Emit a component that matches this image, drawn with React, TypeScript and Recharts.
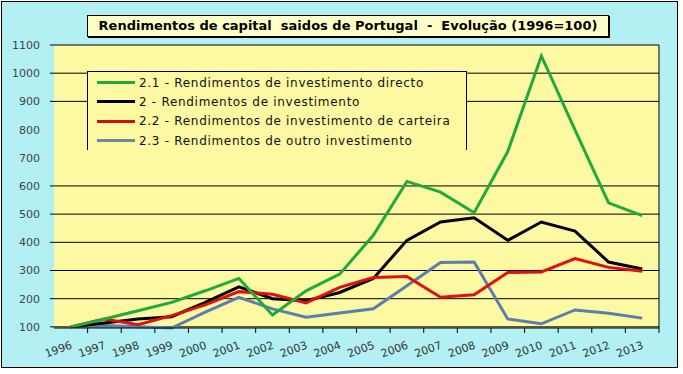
import { LineChart, Line, XAxis, YAxis, CartesianGrid } from 'recharts';

const years = ['1996', '1997', '1998', '1999', '2000', '2001', '2002', '2003', '2004', '2005', '2006', '2007', '2008', '2009', '2010', '2011', '2012', '2013'];
const directo = [100, 128, 157, 187, 228, 272, 142, 228, 287, 425, 616, 578, 505, 722, 1061, 799, 540, 495];
const investimento = [100, 114, 128, 136, 187, 242, 200, 193, 222, 272, 407, 472, 487, 407, 472, 440, 330, 305];
const carteira = [100, 128, 108, 140, 178, 225, 216, 185, 240, 275, 279, 205, 214, 293, 295, 342, 311, 297];
const outro = [100, 105, 100, 96, 152, 205, 164, 134, 149, 164, 246, 328, 330, 128, 111, 160, 148, 131];
const yTicks = [100, 200, 300, 400, 500, 600, 700, 800, 900, 1000, 1100];
const gridValues = [100, 200, 300, 400, 500, 600, 900, 1000, 1100];

const data = years.map((year, i) => ({
  year,
  directo: directo[i],
  investimento: investimento[i],
  carteira: carteira[i],
  outro: outro[i],
}));

// series pela ordem da legenda
const series = [
  { key: 'directo', name: '2.1 - Rendimentos de investimento directo', color: '#1faa3c', legendColor: '#1faa3c' },
  { key: 'investimento', name: '2 - Rendimentos de investimento', color: '#000', legendColor: '#000' },
  { key: 'carteira', name: '2.2 - Rendimentos de investimento de carteira', color: '#e01010', legendColor: '#d01010' },
  { key: 'outro', name: '2.3 - Rendimentos de outro investimento', color: '#5a7fae', legendColor: '#6a8aa0' },
];
// ordem de desenho (a verde fica por cima)
const drawOrder = ['outro', 'investimento', 'carteira', 'directo'];

const W = 683;
const H = 374;
const LEFT = 54;
const RIGHT = 24;
const PLOT_W = W - LEFT - RIGHT;
const HALF_BAND = PLOT_W / years.length / 2;
const FONT = '"DejaVu Sans", Verdana, sans-serif';

function YTick({ x, y, payload }: any) {
  const hasLine = gridValues.includes(payload.value);
  return (
    <g>
      {hasLine && <line x1={x + 10} x2={x + 14} y1={y} y2={y} stroke="#000" />}
      <text x={x} y={y + 4} textAnchor="end" fontSize={11} fontFamily={FONT} fill="#444">
        {payload.value}
      </text>
    </g>
  );
}

function XTick({ x, y, payload }: any) {
  return (
    <g>
      <line x1={x + HALF_BAND} x2={x + HALF_BAND} y1={y - 5} y2={y} stroke="#000" />
      <text
        x={x + 2}
        y={y + 15}
        textAnchor="end"
        fontSize={11}
        fontFamily={FONT}
        fill="#333"
        transform={`rotate(-20, ${x + 2}, ${y + 15})`}
      >
        {payload.value}
      </text>
    </g>
  );
}

export default function App() {
  return (
    <div style={{ position: 'absolute', left: 0, top: 0, width: W, height: H, background: '#fff' }}>
      <div
        style={{
          position: 'absolute',
          left: 1,
          top: 1,
          width: 677,
          height: 367,
          background: '#b3f0f3',
          border: '1px solid #000',
          boxSizing: 'border-box',
        }}
      />
      <div style={{ position: 'absolute', left: 0, top: 0 }}>
        <LineChart width={W} height={H} data={data} margin={{ top: 45, right: RIGHT - 1, bottom: 0, left: 0 }}>
          <CartesianGrid
            vertical={false}
            horizontalValues={gridValues}
            stroke="#000"
            strokeWidth={1}
            fill="#fdf8a2"
            fillOpacity={1}
          />
          <XAxis
            dataKey="year"
            height={46}
            tickSize={5}
            tickMargin={0}
            tickLine={false}
            axisLine={{ stroke: '#000' }}
            interval={0}
            padding={{ left: HALF_BAND, right: HALF_BAND }}
            tick={<XTick />}
          />
          <YAxis
            domain={[100, 1100]}
            ticks={yTicks}
            width={LEFT}
            tickSize={4}
            tickMargin={10}
            tickLine={false}
            axisLine={false}
            interval={0}
            tick={<YTick />}
          />
          <YAxis
            yAxisId="right"
            orientation="right"
            domain={[100, 1100]}
            width={1}
            tick={false}
            tickLine={false}
            axisLine={{ stroke: '#000' }}
          />
          {drawOrder.map((k) => {
            const s = series.find((d) => d.key === k)!;
            return (
              <Line
                key={k}
                dataKey={k}
                name={s.name}
                stroke={s.color}
                strokeWidth={3}
                dot={false}
                isAnimationActive={false}
              />
            );
          })}
        </LineChart>
      </div>
      <div
        style={{
          position: 'absolute',
          left: 87,
          top: 15,
          width: 522,
          height: 22,
          background: '#ffffc8',
          border: '1px solid #000',
          boxShadow: '1px 1px 0 #000',
          boxSizing: 'border-box',
          fontFamily: FONT,
          fontWeight: 'bold',
          fontSize: 13,
          lineHeight: '20px',
          textAlign: 'center',
          whiteSpace: 'pre',
        }}
      >
        {'Rendimentos de capital  saidos de Portugal  -  Evolução (1996=100)'}
      </div>
      <div
        style={{
          position: 'absolute',
          left: 87,
          top: 71,
          width: 380,
          height: 79,
          background: '#fdf8a2',
          borderLeft: '1px solid #000',
          borderTop: '1px solid #000',
          borderRight: '1px solid #000',
          boxSizing: 'border-box',
          paddingTop: 1,
        }}
      >
        {series.map((s) => (
          <div key={s.key} style={{ display: 'flex', alignItems: 'center', height: 19.3 }}>
            <div style={{ width: 38, height: 3, background: s.legendColor, marginLeft: 9, marginRight: 4 }} />
            <span style={{ fontFamily: FONT, fontSize: 12, letterSpacing: 0.7, color: '#111', whiteSpace: 'nowrap' }}>
              {s.name}
            </span>
          </div>
        ))}
      </div>
    </div>
  );
}
